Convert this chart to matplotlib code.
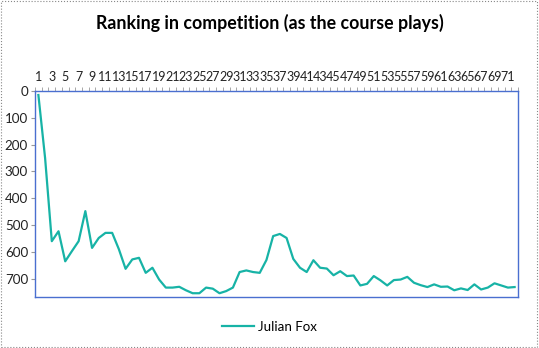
import matplotlib
matplotlib.use("Agg")
from matplotlib import pyplot as plt
from matplotlib.patches import Rectangle
import numpy as np

# Datos
holes = list(range(1, 73))
ranking = [15, 250, 560, 523, 635, 597, 560, 448, 585, 548,
           529, 529, 590, 663, 628, 622, 678, 659, 703, 733,
           733, 730, 743, 754, 754, 733, 737, 754, 746, 733,
           675, 669, 675, 678, 630, 541, 533, 548, 626, 659,
           675, 631, 659, 662, 687, 672, 690, 688, 725, 719,
           690, 706, 725, 705, 703, 693, 715, 724, 731, 721,
           730, 729, 743, 736, 742, 721, 740, 733, 717, 725,
           733, 731]
y_ticks = [0, 100, 200, 300, 400, 500, 600, 700]
x_labels = list(range(1, 72, 2))

plt.rcParams['font.family'] = ['Lato', 'DejaVu Sans']

fig = plt.figure(figsize=(5.39, 3.48), dpi=100)
ax = fig.add_axes([0.065, 0.1466, 0.896, 0.592])

ax.plot(holes, ranking, color='#17b3a6', linewidth=1.6, label='Julian Fox')

ax.set_xlim(0.5, 72.5)
ax.set_ylim(768, 0)
ax.xaxis.tick_top()
ax.set_xticks(x_labels)
ax.set_xticklabels([str(v) for v in x_labels], fontsize=9.0, color='#222222')
ax.set_xticks(np.arange(0.5, 73, 1), minor=True)
ax.tick_params(axis='x', which='major', length=0, pad=6)
ax.tick_params(axis='x', which='minor', length=3, color='#999999', top=True)
ax.set_yticks(y_ticks)
ax.set_yticklabels([str(v) for v in y_ticks], fontsize=9.6, color='#222222')
ax.tick_params(axis='y', length=3, color='#999999', pad=2)

for s in ax.spines.values():
    s.set_color('#4a6fd0')
    s.set_linewidth(1)

fig.suptitle('Ranking in competition (as the course plays)', fontsize=12.8,
             fontweight='bold', y=0.96)

fig.legend(loc='lower center', bbox_to_anchor=(0.5, 0.01), frameon=False,
           fontsize=9.6, handlelength=2.4, handletextpad=0.3)

fig.patches.append(Rectangle((0.002, 0.003), 0.995, 0.993, transform=fig.transFigure,
                             fill=False, edgecolor='#888888', linestyle=':', linewidth=0.8))

fig.savefig('out.png', dpi=100)
